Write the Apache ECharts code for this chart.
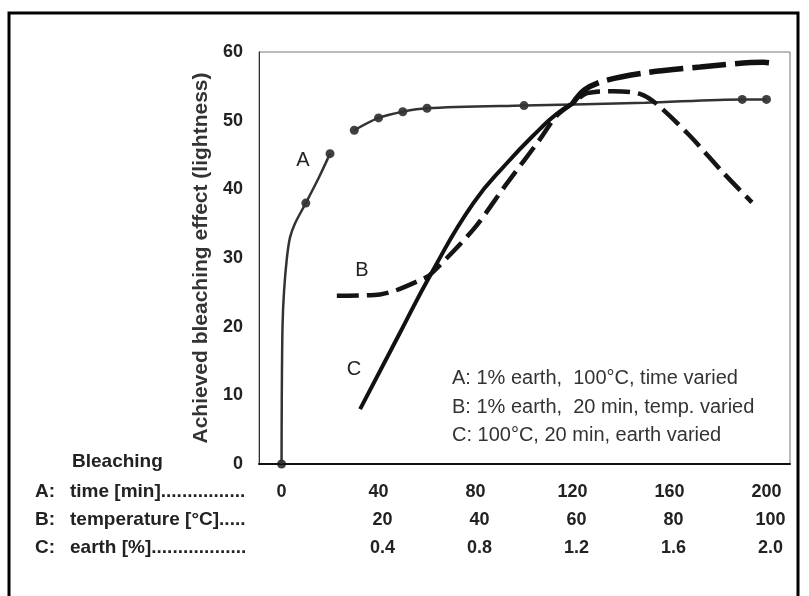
<!DOCTYPE html>
<html>
<head>
<meta charset="utf-8">
<script src="https://cdn.jsdelivr.net/npm/echarts@6/dist/echarts.min.js"></script>
<style>
html,body{margin:0;padding:0;background:#fff;}
#chart{width:809px;height:596px;}
</style>
</head>
<body>
<div id="chart"></div>
<script>
// tick labels of the three stacked x scales
var ticksTime = [0, 40, 80, 120, 160, 200];
var ticksTemp = [20, 40, 60, 80, 100];
var ticksEarth = [0.4, 0.8, 1.2, 1.6, 2.0];

// A: 1% earth, 100°C, time varied  (measured points, min)
var timeA  = [0, 10, 20, 30, 40, 50, 60, 100, 190, 200];
var lightA = [0, 38, 45.2, 48.6, 50.4, 51.3, 51.8, 52.2, 53.1, 53.1];
// A: drawn curve ('-' = break in the line)
var curveTimeA  = [0, 0.1, 0.4, 1, 2.2, 3.5, 5.5, 10, 15.5, 20, '-', 30, 40, 50, 60, 100, 150, 190, 200];
var curveLightA = [0, 10, 20, 25, 30, 33, 35, 38, 41.8, 45.2, '-', 48.6, 50.4, 51.3, 51.8, 52.2, 52.6, 53.1, 53.1];

// B: 1% earth, 20 min, temperature varied (°C)
var tempB  = [11.4, 20.3, 29.6, 31.3, 39.6, 46.4, 53.3, 56.7, 60.2, 63, 68.4, 73.9, 77.4, 84.2, 91.1, 97];
var lightB = [24.5, 24.7, 27.1, 28, 34.2, 40.8, 47.3, 50.7, 52.6, 54, 54.3, 53.9, 52.4, 47.8, 42.4, 38.1];

// C: 100°C, 20 min, earth varied (%)
var earthC  = [0.324, 0.475, 0.626, 0.791, 0.929, 1.066, 1.135, 1.2];
var lightC  = [8, 18.2, 28.3, 38, 43.8, 48.8, 51, 52.5];
// C: dashed upper part
var earthC2 = [1.2, 1.25, 1.33, 1.506, 1.726, 1.987, 2.02];
var lightC2 = [52.5, 54.5, 55.8, 57, 57.8, 58.5, 58.4];

function pairs(xs, ys) {
  var out = [];
  for (var i = 0; i < xs.length; i++) {
    if (xs[i] === '-') out.push('-');
    else out.push([xs[i], ys[i]]);
  }
  return out;
}

var FONT = '"Liberation Sans", Arial, Helvetica, sans-serif';
var INK = '#222';

var myChart = echarts.init(document.getElementById('chart'));

function bottomAxis(min, max, ticks, offset, showLine, fmt, pad) {
  return {
    type: 'value',
    position: 'bottom',
    min: min,
    max: max,
    offset: offset,
    axisLine: {show: showLine, onZero: false, lineStyle: {color: '#111', width: 2}},
    axisTick: {show: false},
    splitLine: {show: false},
    axisLabel: {
      customValues: ticks,
      margin: 19,
      padding: [0, 0, 0, pad],
      fontFamily: FONT,
      fontSize: 18,
      fontWeight: 'bold',
      color: INK,
      formatter: fmt
    }
  };
}

var option = {
  backgroundColor: '#fff',
  animation: false,
  grid: {
    left: 259, right: 19, top: 52, bottom: 132,
    show: true, borderColor: '#777', borderWidth: 1
  },
  xAxis: [
    bottomAxis(-9.3, 209.7, ticksTime, 0, true, function (v) { return String(v); }, 0),
    bottomAxis(-4.65, 104.85, ticksTemp, 28, false, function (v) { return String(v); }, 8),
    bottomAxis(-0.093, 2.097, ticksEarth, 56, false, function (v) { return v.toFixed(1); }, 8)
  ],
  yAxis: {
    type: 'value',
    min: 0, max: 60, interval: 10,
    axisLine: {show: true, onZero: false, lineStyle: {color: '#333', width: 1}},
    axisTick: {show: false},
    splitLine: {show: false},
    axisLabel: {margin: 16, fontFamily: FONT, fontSize: 18, fontWeight: 'bold', color: INK},
    name: 'Achieved bleaching effect (lightness)',
    nameLocation: 'middle',
    nameGap: 46,
    nameRotate: 90,
    nameTextStyle: {fontFamily: FONT, fontSize: 21, fontWeight: 'bold', color: '#333'}
  },
  series: [
    {
      name: 'A',
      type: 'line',
      xAxisIndex: 0,
      data: pairs(curveTimeA, curveLightA),
      smooth: 0.3,
      showSymbol: false,
      connectNulls: false,
      lineStyle: {color: '#333', width: 2.5}
    },
    {
      name: 'A points',
      type: 'scatter',
      xAxisIndex: 0,
      data: pairs(timeA, lightA),
      symbolSize: 9,
      itemStyle: {color: '#111'}
    },
    {
      name: 'B',
      type: 'line',
      xAxisIndex: 1,
      data: pairs(tempB, lightB),
      smooth: 0.3,
      showSymbol: false,
      lineStyle: {color: '#151515', width: 4.5, type: [22, 8]}
    },
    {
      name: 'C',
      type: 'line',
      xAxisIndex: 2,
      data: pairs(earthC, lightC),
      smooth: 0.5,
      showSymbol: false,
      lineStyle: {color: '#111', width: 4}
    },
    {
      name: 'C upper',
      type: 'line',
      xAxisIndex: 2,
      data: pairs(earthC2, lightC2),
      smooth: 0.3,
      showSymbol: false,
      lineStyle: {color: '#111', width: 5.5, type: [34, 9]}
    }
  ],
  graphic: [
    // outer frame
    {type: 'polyline', shape: {points: [[9, 596], [9, 13], [798, 13], [798, 596]]},
      style: {stroke: '#000', lineWidth: 3, fill: null}},
    // curve letters
    {type: 'text', x: 303, y: 160, style: {text: 'A', font: '20px ' + FONT, fill: INK, textAlign: 'center', textVerticalAlign: 'middle'}},
    {type: 'text', x: 362, y: 270, style: {text: 'B', font: '20px ' + FONT, fill: INK, textAlign: 'center', textVerticalAlign: 'middle'}},
    {type: 'text', x: 354, y: 369, style: {text: 'C', font: '20px ' + FONT, fill: INK, textAlign: 'center', textVerticalAlign: 'middle'}},
    // key inside plot
    {type: 'text', x: 452, y: 378, style: {text: 'A: 1% earth,  100°C, time varied', font: '20px ' + FONT, fill: '#333', textVerticalAlign: 'middle'}},
    {type: 'text', x: 452, y: 407, style: {text: 'B: 1% earth,  20 min, temp. varied', font: '20px ' + FONT, fill: '#333', textVerticalAlign: 'middle'}},
    {type: 'text', x: 452, y: 435, style: {text: 'C: 100°C, 20 min, earth varied', font: '20px ' + FONT, fill: '#333', textVerticalAlign: 'middle'}},
    // row captions for the stacked x scales
    {type: 'text', x: 72, y: 462, style: {text: 'Bleaching', font: 'bold 19px ' + FONT, fill: INK, textVerticalAlign: 'middle'}},
    {type: 'text', x: 35, y: 492, style: {text: 'A:', font: 'bold 19px ' + FONT, fill: INK, textVerticalAlign: 'middle'}},
    {type: 'text', x: 70, y: 492, style: {text: 'time [min]................', font: 'bold 19px ' + FONT, fill: INK, textVerticalAlign: 'middle'}},
    {type: 'text', x: 35, y: 520, style: {text: 'B:', font: 'bold 19px ' + FONT, fill: INK, textVerticalAlign: 'middle'}},
    {type: 'text', x: 70, y: 520, style: {text: 'temperature [°C].....', font: 'bold 19px ' + FONT, fill: INK, textVerticalAlign: 'middle'}},
    {type: 'text', x: 35, y: 548, style: {text: 'C:', font: 'bold 19px ' + FONT, fill: INK, textVerticalAlign: 'middle'}},
    {type: 'text', x: 70, y: 548, style: {text: 'earth [%]..................', font: 'bold 19px ' + FONT, fill: INK, textVerticalAlign: 'middle'}}
  ]
};

myChart.setOption(option);
</script>
</body>
</html>
